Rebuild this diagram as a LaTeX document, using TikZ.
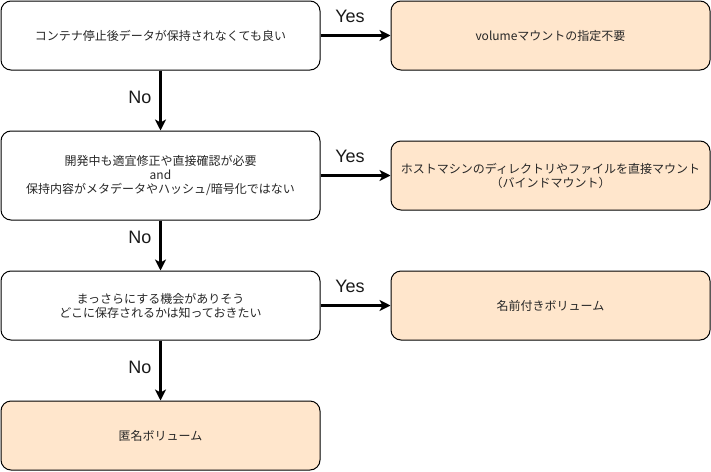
\documentclass[tikz,border=0pt]{standalone}
\usepackage{fontspec}
\setmainfont{Liberation Sans}
\newfontfamily\jpfont{Noto Sans CJK JP}
\usetikzlibrary{arrows.meta}
\definecolor{peach}{HTML}{FFE6CC}
\begin{document}
\begin{tikzpicture}[x=1pt,y=-1pt,
  box/.style={draw=black,line width=1pt,rounded corners=10pt,minimum width=319pt,minimum height=69pt,align=center,inner sep=0pt,font=\jpfont\fontsize{12pt}{14pt}\selectfont,text=black!85},
  leaf/.style={box,fill=peach},
  conn/.style={line width=3pt,-{Stealth[length=11pt,width=11pt,inset=3pt]}},
  lab/.style={font=\fontsize{18pt}{20pt}\selectfont,inner sep=0pt,text=black!90}]
\useasboundingbox (0,0) rectangle (711,471);
\node[box] (q1) at (160.5,35.5) {コンテナ停止後データが保持されなくても良い};
\node[leaf] (a1) at (550.5,35.5) {volumeマウントの指定不要};
\node[box,minimum height=89pt] (q2) at (160.5,175.5) {開発中も適宜修正や直接確認が必要\\and\\保持内容がメタデータやハッシュ/暗号化ではない};
\node[leaf] (a2) at (550.5,175.5) {ホストマシンのディレクトリやファイルを直接マウント\\（バインドマウント）};
\node[box] (q3) at (160.5,305.5) {まっさらにする機会がありそう\\どこに保存されるかは知っておきたい};
\node[leaf] (a3) at (550.5,305.5) {名前付きボリューム};
\node[leaf] (a4) at (160.5,435.5) {匿名ボリューム};
\draw[conn] (q1.east) -- (a1.west);
\draw[conn] (q1.south) -- (q2.north);
\draw[conn] (q2.east) -- (a2.west);
\draw[conn] (q2.south) -- (q3.north);
\draw[conn] (q3.east) -- (a3.west);
\draw[conn] (q3.south) -- (a4.north);
\node[lab] (y1) at (350,16) {Yes};
\node[lab] (n1) at (140,97) {No};
\node[lab] (y2) at (350,156) {Yes};
\node[lab] (n2) at (140,237) {No};
\node[lab] (y3) at (350,286) {Yes};
\node[lab] (n3) at (140,367) {No};
\end{tikzpicture}
\end{document}
